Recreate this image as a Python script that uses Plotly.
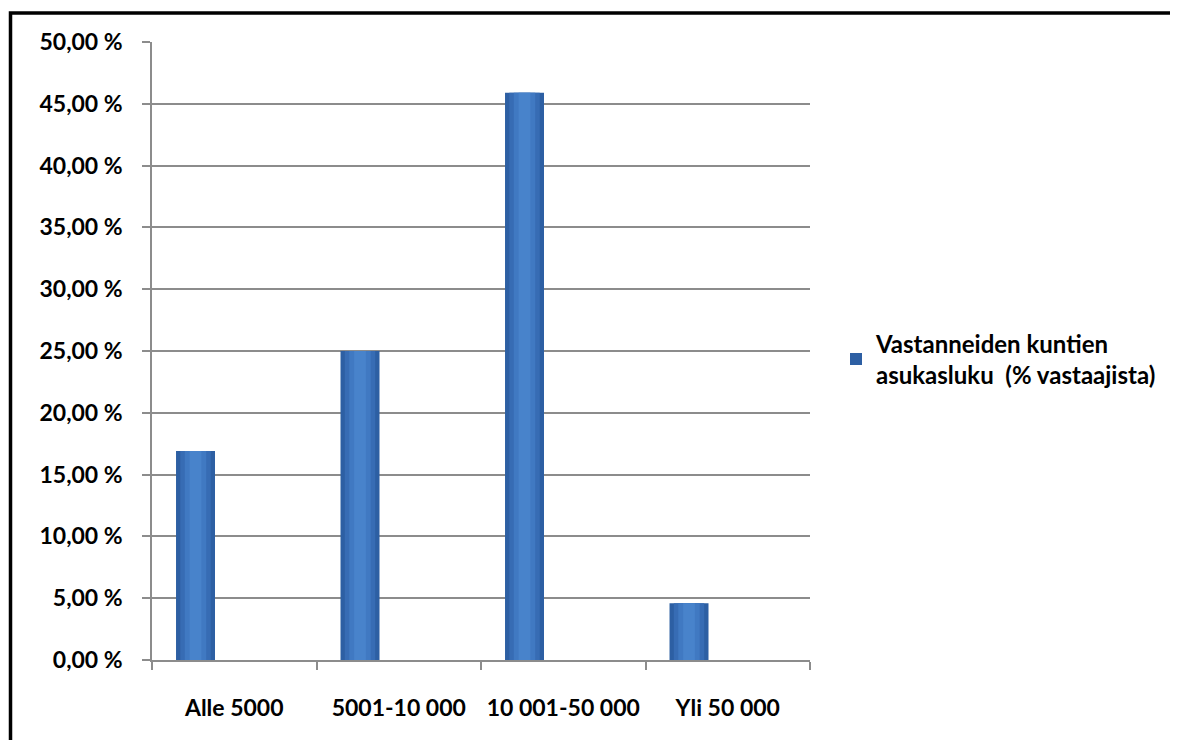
import plotly.graph_objects as go

categories = ["Alle 5000", "5001-10 000", "10 001-50 000", "Yli 50 000"]
values = [16.9, 25.0, 45.9, 4.6]
series_name = "Vastanneiden kuntien<br>asukasluku  (% vastaajista)"
y_tickvals = [0, 5, 10, 15, 20, 25, 30, 35, 40, 45, 50]
y_ticktext = ["0,00 %", "5,00 %", "10,00 %", "15,00 %", "20,00 %", "25,00 %",
              "30,00 %", "35,00 %", "40,00 %", "45,00 %", "50,00 %"]

# the page adds an 8px body margin, so figure coords = screen coords - 8
OFF = 8
W, H = 1178 - OFF, 740 - OFF
L, R, T, B = 152 - OFF, 810 - OFF, 41.5 - OFF, 660 - OFF
pw, ph = R - L, B - T

def px_x(x):
    return (x - OFF - L) / pw

def px_y(y):
    return (B - (y - OFF)) / ph

FONT = "Lato"
FS = 23
grid = "#8c8c8c"

bar_w = 0.237
bar_off = -0.354
layers = [
    (1.0, "#2d5fa3", True),
    (0.78, "#376cb4", False),
    (0.55, "#4079c2", False),
    (0.3, "#4883cb", False),
]

fig = go.Figure()
for frac, col, show in layers:
    w = bar_w * frac
    off = bar_off + (bar_w - w) / 2
    fig.add_trace(go.Bar(
        x=categories, y=values, name=series_name,
        width=w, offset=off,
        marker=dict(color=col, line=dict(width=0)),
        showlegend=show, hoverinfo="skip" if not show else None,
    ))

fig.update_layout(
    width=W, height=H,
    margin=dict(l=L, r=W - R, t=T, b=H - B, pad=0),
    paper_bgcolor="white", plot_bgcolor="white",
    barmode="overlay",
    font=dict(family=FONT, size=FS, color="black", weight="bold"),
    showlegend=True,
    legend=dict(
        x=px_x(836), y=px_y(359), xanchor="left", yanchor="middle",
        font=dict(family=FONT, size=24, color="black", weight="bold"),
        bgcolor="rgba(0,0,0,0)", itemwidth=30,
    ),
    xaxis=dict(
        range=[-0.5, 3.5],
        showline=True, linecolor=grid, linewidth=1.5,
        ticks="outside", ticklen=8, tickcolor=grid, tickwidth=1.5,
        tickson="boundaries", showgrid=False,
        ticklabelstandoff=27,
        tickfont=dict(family=FONT, size=FS, color="black", weight="bold"),
    ),
    yaxis=dict(
        range=[0, 50], tickvals=y_tickvals, ticktext=y_ticktext,
        showline=True, linecolor=grid, linewidth=1.5,
        ticks="outside", ticklen=8, tickcolor=grid, tickwidth=1.5,
        showgrid=True, gridcolor=grid, gridwidth=1.5,
        zeroline=False,
        ticklabelstandoff=15,
        tickfont=dict(family=FONT, size=FS, color="black", weight="bold"),
    ),
    shapes=[dict(
        type="rect", xref="paper", yref="paper",
        x0=px_x(10.5), x1=px_x(1195), y0=px_y(760), y1=px_y(12.5),
        line=dict(color="black", width=3.5), fillcolor="rgba(0,0,0,0)",
        layer="above",
    )],
)

fig.write_html("out.html")
